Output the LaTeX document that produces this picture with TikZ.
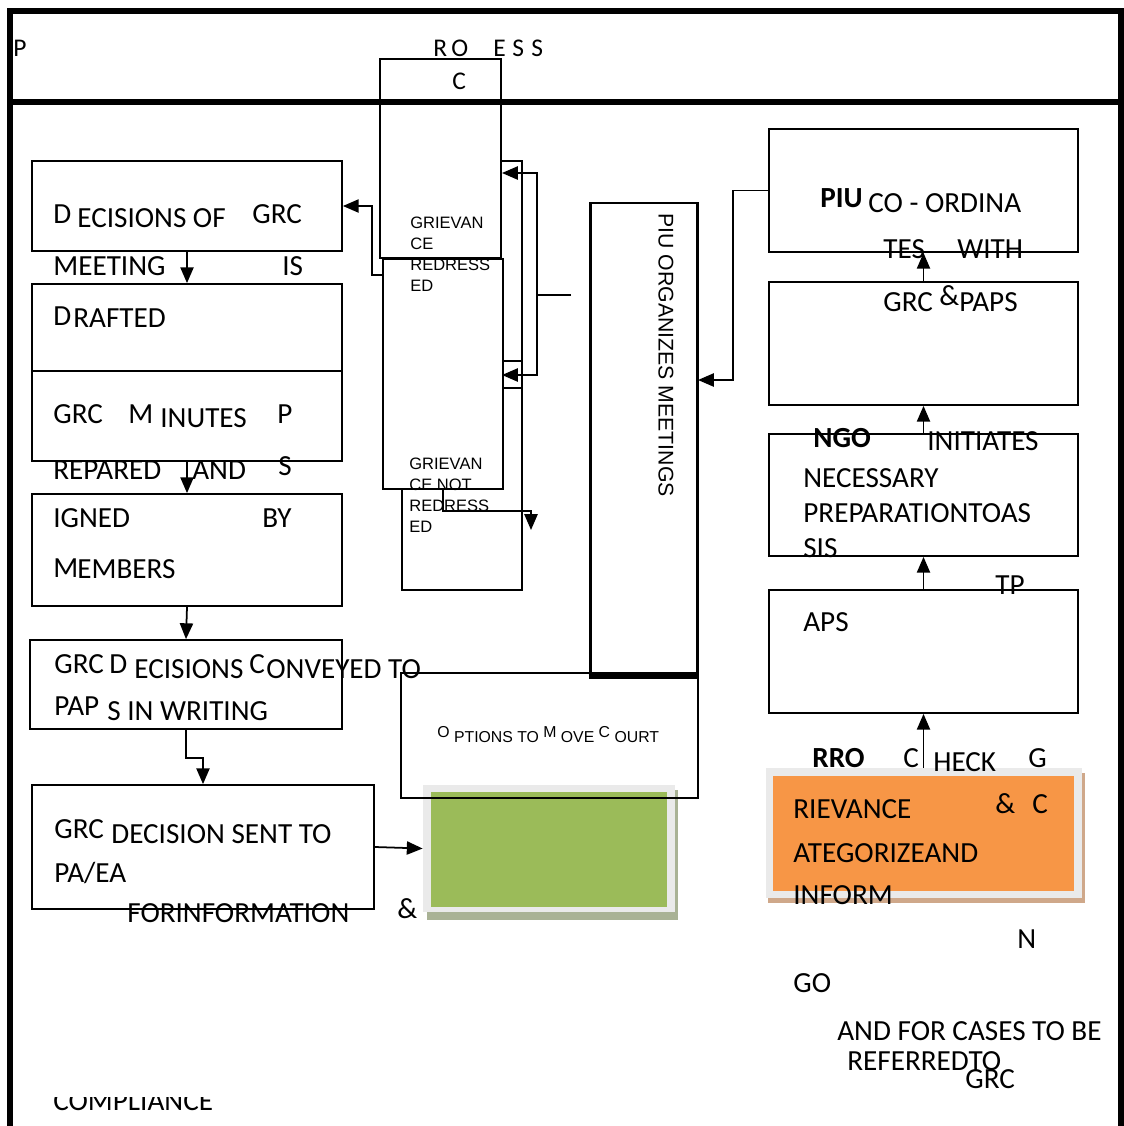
\documentclass[tikz,border=0pt]{standalone}
\usepackage{fontspec}
\setmainfont{Carlito}
\newfontfamily\arialfont{Liberation Sans}
\usetikzlibrary{arrows.meta,fit}

\definecolor{leafgreen}{HTML}{9BBB59}
\definecolor{leafshadow}{HTML}{A9B295}
\definecolor{paleframe}{HTML}{EAEAEA}
\definecolor{tangerine}{HTML}{F79646}
\definecolor{tanshadow}{HTML}{CFA88A}

\begin{document}
\begin{tikzpicture}[
   x=0.02cm,
   y=-0.02cm,
   every node/.style={inner sep=0pt},
   box/.style={draw, line width=1pt, fit={#1}},
   gbox/.style={draw, fill=white, line width=0.8pt, fit={#1}},
   lbl/.style={anchor=base west, font=\fontsize{16.6}{20}\selectfont},
   lblb/.style={anchor=base west, font=\fontsize{16.6}{20}\selectfont\bfseries},
   hdr/.style={anchor=base west, font=\fontsize{14.5}{17}\selectfont},
   arl/.style={anchor=base west, font=\arialfont\fontsize{9.4}{12}\selectfont},
   wire/.style={line width=1pt},
   arr/.style={line width=1pt, -{Triangle[length=9pt,width=7.5pt]}}
 ]
   \useasboundingbox (0,0) rectangle (1124,1126);

   % Grievance boxes in the middle, the back one first.
   \node[box={(402,161) (522,590)}, line width=0.8pt] (gback) {};
   \node[box={(502,361) (522,388)}, line width=0.8pt] (gnotch) {};
   \node[gbox={(383,259) (503,489)}] (gr2) {};
   \node[gbox={(380,59) (501,258)}] (gr1) {};

   % Left column.
   \node[box={(32,161) (342,251)}] (b1) {};
   \node[box={(32,284) (342,371)}] (b2) {};
   \node[box={(32,371) (342,461)}] (b3) {};
   \node[box={(32,494) (342,606)}] (b4) {};
   \node[box={(30,640) (342,729)}] (b5) {};
   \node[box={(32,785) (374,909)}] (b6) {};

   % PIU meetings and the right column.
   \node[box={(590,203) (697,675)}, line width=1.7pt] (piu) {};
   \draw[line width=3pt] (piu.south west) -- (piu.south east);
   \node[box={(769,129) (1078,252)}] (r1) {};
   \node[box={(769,282) (1078,405)}] (r2) {};
   \node[box={(769,434) (1078,556)}] (r3) {};
   \node[box={(769,590) (1078,713)}] (r4) {};

   % Green panel and court options.
   \fill[leafshadow] (427,790) rectangle (678,920);
   \node[fill=paleframe, fit={(423,785) (675,912)}] (gp) {};
   \fill[leafgreen] (431,792) rectangle (667,907);
   \node[draw, line width=1pt, fit={(401,673) (698,798)}] (court) {};

   % Orange panel.
   \fill[tanshadow] (768,773) rectangle (1085,903);
   \node[fill=paleframe, fit={(766,768) (1082,898)}] (og) {};
   \fill[tangerine] (773,776) rectangle (1074,891);

   % Connectors.
   \coordinate (gtail) at (383,275);
   \coordinate (fork) at (571,295);
   \coordinate (forkx) at (537,295);
   \coordinate (tipa) at (502,173);
   \coordinate (tipb) at (502,375);
   \coordinate (tipc) at (531,530);
   \coordinate (piuin) at (698,380);
   \draw[arr] (b1.south) -- (b2.north);
   \draw[arr] (b3.south) -- (b4.north);
   \draw[arr] (b4.south) -- (b5.north);
   \draw[arr] (b5.south) -- ++(0,28) -| (b6.north);
   \draw[arr] (b6.east) -- (gp.west);
   \draw[arr] (gtail) -- ++(-11,0) |- (b1.east);
   \draw[wire] (fork) -- (forkx);
   \draw[arr] (forkx) |- (tipa);
   \draw[arr] (forkx) |- (tipb);
   \draw[arr] (gr2.south) -- ++(0,21) -| (tipc);
   \draw[arr] (r1.west) -- ++(-35,0) |- (piuin);
   \draw[arr] (r2.north) -- (r1.south);
   \draw[arr] (r3.north) -- (r2.south);
   \draw[arr] (r4.north) -- (r3.south);
   \draw[arr] (og.north -| r4.south) -- (r4.south);

   % Header letters.
   \node[hdr] (h0) at (13,56) {P};
   \node[hdr] (h1) at (433,56) {R};
   \node[hdr] (h2) at (451,56) {O};
   \node[hdr] (h3) at (493,56) {E};
   \node[hdr] (h4) at (512,56) {S};
   \node[hdr] (h5) at (531,56) {S};
   \node[hdr] (h6) at (452,89) {C};

   % Grievance texts.
   \foreach \s [count=\i from 0] in {GRIEVAN,CE,REDRESS,ED}
     \node[arl] (ga\i) at (410,{228+21.3*\i}) {\s};
   \foreach \s [count=\i from 0] in {GRIEVAN,CE NOT,REDRESS,ED}
     \node[arl] (gb\i) at (409,{469+21.3*\i}) {\s};
   \node[anchor=west, rotate=-90, font=\arialfont\fontsize{12.1}{14}\selectfont]
     (piut) at (666,213) {PIU ORGANIZES MEETINGS};
   \node[anchor=base west, font=\arialfont\fontsize{9}{11}\selectfont] (courtt) at (437,742)
     {\raisebox{2.8pt}{O} PTIONS TO \raisebox{2.8pt}{M} OVE \raisebox{2.8pt}{C} OURT};

   % Left column texts.
   \node[lbl] (l1a) at (53,223) {D};
   \node[lbl] (l1b) at (77,227) {ECISIONS OF};
   \node[lbl] (l1c) at (252,223) {GRC};
   \node[lbl] (l2a) at (53,275) {MEETING};
   \node[lbl] (l2b) at (282,275) {IS};
   \node[lbl] (l3a) at (53,325) {D};
   \node[lbl] (l3b) at (73,327) {RAFTED};
   \node[lbl] (l4a) at (53,423) {GRC};
   \node[lbl] (l4b) at (128,423) {M};
   \node[lbl] (l4c) at (160,427) {INUTES};
   \node[lbl] (l4d) at (277,423) {P};
   \node[lbl] (l5a) at (53,479) {REPARED};
   \node[lbl] (l5b) at (192,479) {AND};
   \node[lbl] (l5c) at (278,475) {S};
   \node[lbl] (l6a) at (53,527) {IGNED};
   \node[lbl] (l6b) at (262,527) {BY};
   \node[lbl] (l7a) at (53,577) {M};
   \node[lbl] (l7b) at (77,578) {EMBERS};
   \node[lbl] (l8a) at (54,673) {GRC};
   \node[lbl] (l8b) at (109,673) {D};
   \node[lbl] (l8c) at (134,678) {ECISIONS};
   \node[lbl] (l8d) at (249,673) {C};
   \node[lbl] (l8e) at (266,678) {ONVEYED TO};
   \node[lbl] (l9a) at (54,715) {PAP};
   \node[lbl] (l9b) at (107,720) {S IN WRITING};
   \node[lbl] (l10a) at (54,838) {GRC};
   \node[lbl] (l10b) at (111,843) {DECISION SENT TO};
   \node[lbl] (l11) at (54,882) {PA/EA};
   \node[lbl] (l12) at (127,922) {FORINFORMATION};
   \node[lbl] (l13) at (397,918) {\&};
   \begin{scope}
     \clip (0,1097) rectangle (1124,1126);
     \node[lbl] (l14) at (53,1110) {COMPLIANCE};
   \end{scope}

   % Right column texts.
   \node[lblb] (r1a) at (820,207) {PIU};
   \node[lbl] (r1b) at (868,212) {CO - ORDINA};
   \node[lbl] (r1c) at (883,258) {TES};
   \node[lbl] (r1d) at (957,258) {WITH};
   \node[lbl] (r2a) at (883,311) {GRC};
   \node[lbl] (r2b) at (939,305) {\&};
   \node[lbl] (r2c) at (959,311) {PAPS};
   \node[lblb] (r3a) at (813,447) {NGO};
   \node[lbl] (r3b) at (927,450) {INITIATES};
   \node[lbl] (r3c) at (803,487) {NECESSARY};
   \node[lbl] (r3d) at (803,522) {PREPARATIONTOAS};
   \node[lbl] (r3e) at (803,557) {SIS};
   \node[lbl] (r4a) at (995,594) {TP};
   \node[lbl] (r4b) at (803,631) {APS};
   \node[lblb] (r5a) at (812,767) {RRO};
   \node[lbl] (r5b) at (903,767) {C};
   \node[lbl] (r5c) at (933,771) {HECK};
   \node[lbl] (r5d) at (1028,767) {G};
   \node[lbl] (r6a) at (793,818) {RIEVANCE};
   \node[lbl] (r6b) at (995,813) {\&};
   \node[lbl] (r6c) at (1032,813) {C};
   \node[lbl] (r7) at (793,862) {ATEGORIZEAND};
   \node[lbl] (r8) at (793,904) {INFORM};
   \node[lbl] (r9) at (1017,948) {N};
   \node[lbl] (r10) at (793,992) {GO};
   \node[lbl] (r11) at (837,1040) {AND FOR CASES TO BE};
   \node[lbl] (r12) at (847,1070) {REFERREDTO};
   \node[lbl] (r13) at (965,1088) {GRC};

   % Outer frame and header rule.
   \draw[line width=3.6pt] (10,1126) -- (10,11) -- (1121,11) -- (1121,1126);
   \draw[line width=3.6pt] (10,102) -- (1121,102);
 \end{tikzpicture}
\end{document}
